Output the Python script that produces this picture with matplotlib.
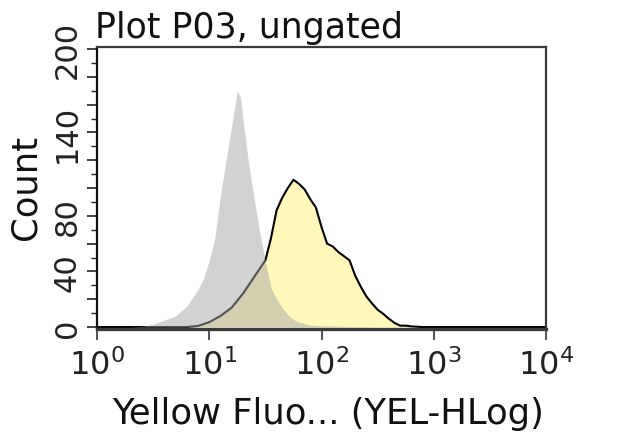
import matplotlib
matplotlib.use("Agg")
import matplotlib.pyplot as plt
from matplotlib.ticker import FixedLocator, FixedFormatter, MultipleLocator, LogLocator, NullFormatter
import numpy as np

plt.rcParams['font.family'] = ['DejaVu Sans']
plt.rcParams['mathtext.default'] = 'regular'

# Control (gray) histogram: log10(fluorescence), count
gray_log = [0.0, 0.30, 0.40, 0.50, 0.60, 0.70, 0.80, 0.90, 0.95, 1.00, 1.05, 1.10, 1.15,
            1.20, 1.25, 1.28, 1.30, 1.35, 1.40, 1.45, 1.50, 1.55, 1.60, 1.65, 1.70,
            1.75, 1.80, 1.90, 2.00, 2.20, 2.50, 4.0]
gray_cnt = [0, 0, 0.5, 2, 5, 8, 15, 27, 35, 48, 64, 95, 120,
            145, 170, 165, 150, 118, 92, 68, 47, 28, 20, 14, 9,
            5.5, 3.5, 1.5, 1, 0.5, 0, 0]

# Sample (yellow) histogram
yel_log = [0.0, 0.80, 0.90, 1.00, 1.10, 1.20, 1.25, 1.30, 1.35, 1.40, 1.45, 1.50, 1.55,
           1.60, 1.65, 1.70, 1.75, 1.80, 1.85, 1.90, 1.95, 2.00, 2.05, 2.10, 2.15,
           2.20, 2.25, 2.30, 2.35, 2.40, 2.45, 2.50, 2.55, 2.60, 2.65, 2.70, 2.75,
           2.80, 2.90, 4.0]
yel_cnt = [0, 0, 0.8, 3.5, 8, 14, 19, 24, 30, 36, 42, 48, 64,
           84, 93, 100, 106, 103, 99, 92, 86, 72, 60, 58, 54,
           51, 48, 37, 29, 22, 17, 12.5, 9.5, 6, 3, 1, 1,
           0.5, 0, 0]

x_ticks = [1, 10, 100, 1000, 10000]
x_tick_labels = [r'$10^{0}$', r'$10^{1}$', r'$10^{2}$', r'$10^{3}$', r'$10^{4}$']
y_ticks = [0, 20, 40, 60, 80, 100, 120, 140, 160, 180, 200]
y_tick_labels = ['0', '', '40', '', '80', '', '', '140', '', '', '200']

title = 'Plot P03, ungated'
x_label = 'Yellow Fluo... (YEL-HLog)'
y_label = 'Count'

fig = plt.figure(figsize=(6.4, 4.35), dpi=100)
ax = fig.add_axes([97/640, 1-330/435, (546-97)/640, (330-48)/435])

gx = 10 ** np.array(gray_log)
yx = 10 ** np.array(yel_log)

ax.fill_between(yx, 0, yel_cnt, color='#FFF8BA', lw=0, zorder=1)
ax.plot(yx, yel_cnt, color='black', lw=1.5, zorder=2)
ax.fill_between(gx, 0, gray_cnt, color='#A6A6A6', alpha=0.5, lw=0, zorder=3)

ax.set_xscale('log')
ax.set_xlim(1, 10000)
ax.set_ylim(-1.4, 201.5)

ax.xaxis.set_major_locator(FixedLocator(x_ticks))
ax.xaxis.set_major_formatter(FixedFormatter(x_tick_labels))
ax.xaxis.set_minor_locator(LogLocator(base=10, subs=np.arange(2, 10)))
ax.xaxis.set_minor_formatter(NullFormatter())

ax.yaxis.set_major_locator(FixedLocator(y_ticks))
ax.yaxis.set_major_formatter(FixedFormatter(y_tick_labels))
ax.yaxis.set_minor_locator(MultipleLocator(10))

ax.tick_params(axis='x', which='major', direction='out', length=8, width=1.2, pad=6,
               labelsize=23, colors='#333333', labelcolor='#222222')
ax.tick_params(axis='x', which='minor', direction='out', length=4, width=1.0, colors='#333333')
ax.tick_params(axis='y', which='major', direction='out', length=7, width=1.2, pad=4,
               labelsize=22, labelrotation=90, colors='#222222')
ax.tick_params(axis='y', which='minor', direction='out', length=4, width=1.0, colors='#222222')
for lbl in ax.get_yticklabels():
    lbl.set_va('center')

for name, sp in ax.spines.items():
    sp.set_linewidth(1.6)
    sp.set_color('#3a3a3a')
ax.spines['left'].set_color('#111111')
ax.spines['bottom'].set_linewidth(2.4)

fig.text(95/640, 1-38/435, title, fontsize=25, ha='left', va='baseline', color='#111111')
fig.text(25/640, 1-187/435, y_label, fontsize=25.5, rotation=90, ha='center', va='center', color='#111111')
fig.text(328/640, 1-424/435, x_label, fontsize=25.5, ha='center', va='baseline', color='#111111')

fig.savefig('out.png', dpi=100)
